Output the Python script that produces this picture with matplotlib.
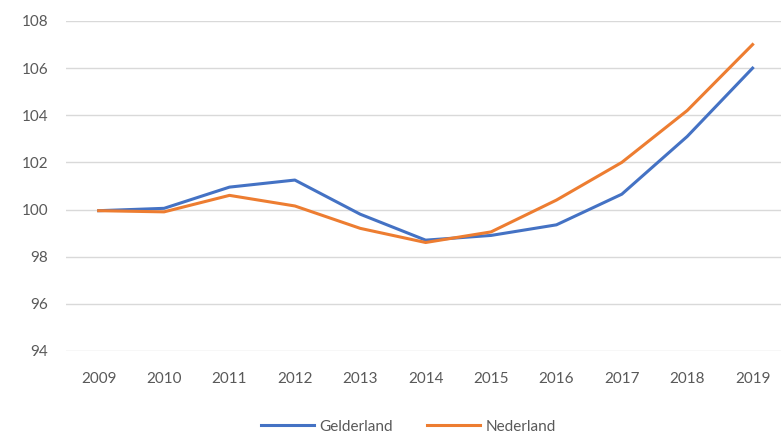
import matplotlib.pyplot as plt

years = ["2009", "2010", "2011", "2012", "2013", "2014", "2015", "2016", "2017", "2018", "2019"]
gelderland = [99.95, 100.05, 100.95, 101.25, 99.8, 98.7, 98.9, 99.35, 100.65, 103.1, 106.0]
nederland = [99.95, 99.9, 100.6, 100.15, 99.2, 98.6, 99.05, 100.4, 102.0, 104.2, 107.0]
yticks = [94, 96, 98, 100, 102, 104, 106, 108]

plt.rcParams['font.family'] = ['Lato', 'DejaVu Sans']

fig = plt.figure(figsize=(7.81, 4.37), dpi=100)
ax = fig.add_axes([0.0845, 0.197, 0.921, 0.755])

x = range(len(years))
ax.plot(x, gelderland, color="#4472C4", lw=2.2, label="Gelderland")
ax.plot(x, nederland, color="#ED7D31", lw=2.2, label="Nederland")

ax.set_xlim(-0.5, len(years) - 0.5)
ax.set_ylim(94, 108)
ax.set_yticks(yticks)
ax.set_xticks(list(x))
ax.set_xticklabels(years)
ax.grid(axis="y", color="#d9d9d9", lw=1)
ax.set_axisbelow(True)
for s in ax.spines.values():
    s.set_visible(False)
ax.tick_params(length=0, labelsize=11, colors="#595959")
ax.tick_params(axis="x", pad=15)
ax.tick_params(axis="y", pad=13)

ax.legend(loc="center", bbox_to_anchor=(0.476, -0.23), ncol=2, frameon=False,
          fontsize=11, labelcolor="#595959", handlelength=3.5, columnspacing=2.2,
          handletextpad=0.35)

fig.savefig("out.png", dpi=100)
